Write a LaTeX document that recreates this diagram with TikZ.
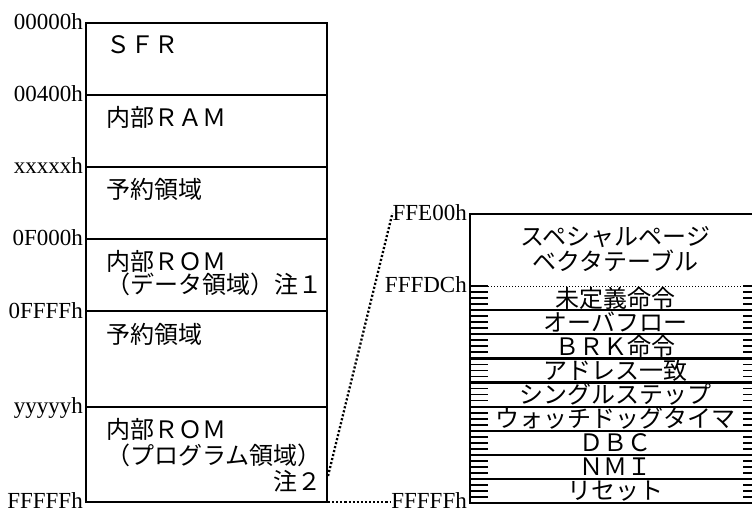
\documentclass[tikz,border=0pt]{standalone}
\usepackage{fontspec}
\setmainfont{Liberation Serif}
\newfontfamily\jpfont{Noto Sans CJK JP}
\begin{document}
\begin{tikzpicture}[x=1bp,y=-1bp,
  boxline/.style={line width=2.1bp},
  hatchline/.style={line width=1.9bp},
  addr/.style={font=\fontsize{23bp}{26bp}\selectfont, inner sep=0pt, anchor=base east},
  jptxt/.style={font=\jpfont\fontsize{24bp}{26bp}\selectfont, inner sep=0pt, anchor=base west},
  rowtxt/.style={font=\jpfont\fontsize{24bp}{26bp}\selectfont, inner sep=0pt, anchor=base},
  conn/.style={line width=2.3bp, dash pattern=on 2.1bp off 2bp},
  thindot/.style={line width=1.1bp, dash pattern=on 1.1bp off 1.9bp}]
\useasboundingbox (0,0) rectangle (752,512);

% ---------- left memory map ----------
\draw[boxline] (86,22.7) rectangle (327,502.3);
\foreach \yy in {94.7,166.7,238.7,311,406.7}
  \draw[boxline] (86,\yy) -- (327,\yy);

\node[addr] (a1) at (83,29.5) {00000h};
\node[addr] (a2) at (83,101.5) {00400h};
\node[addr] (a3) at (83,173.5) {xxxxxh};
\node[addr] (a4) at (83,245.5) {0F000h};
\node[addr] (a5) at (83,318) {0FFFFh};
\node[addr] (a6) at (83,413.5) {yyyyyh};
\node[addr] (a7) at (83,508.8) {FFFFFh};

\node[jptxt] (t1) at (106,54) {ＳＦＲ};
\node[jptxt] (t2) at (106,126.7) {内部ＲＡＭ};
\node[jptxt] (t3) at (106,198.7) {予約領域};
\node[jptxt] (t4) at (106,270.7) {内部ＲＯＭ};
\node[jptxt] (t5) at (106,293.5) {（データ領域）注１};
\node[jptxt] (t6) at (106,343) {予約領域};
\node[jptxt] (t7) at (106,438.5) {内部ＲＯＭ};
\node[jptxt] (t8) at (106,464) {（プログラム領域）};
\node[jptxt, anchor=base east] (t9) at (322,490) {注２};

% ---------- right vector table ----------
\draw[boxline] (761,214.3) -- (470,214.3) -- (470,502.7) -- (761,502.7);
\foreach \k in {1,...,8}
  \draw[boxline] (470,{286.3+24.05*\k}) -- (761,{286.3+24.05*\k});
\foreach \j in {0,...,36} {
  \draw[hatchline] (470,{286.3+6.0125*\j}) -- (488,{286.3+6.0125*\j});
  \draw[hatchline] (743,{286.3+6.0125*\j}) -- (761,{286.3+6.0125*\j});
}
\draw[thindot] (488,286.3) -- (743,286.3);

\node[addr] (r1) at (467,221) {FFE00h};
\node[addr] (r2) at (467,292.7) {FFFDCh};
\node[addr] (r3) at (467,508.8) {FFFFFh};

\node[rowtxt] (h1) at (615.5,246) {スペシャルページ};
\node[rowtxt] (h2) at (615.5,271) {ベクタテーブル};

\node[rowtxt] (v1) at (615.5,{286.3+21}) {未定義命令};
\node[rowtxt] (v2) at (615.5,{286.3+24.05*1+21}) {オーバフロー};
\node[rowtxt] (v3) at (615.5,{286.3+24.05*2+21}) {ＢＲＫ命令};
\node[rowtxt] (v4) at (615.5,{286.3+24.05*3+21}) {アドレス一致};
\node[rowtxt] (v5) at (615.5,{286.3+24.05*4+21}) {シングルステップ};
\node[rowtxt] (v6) at (615.5,{286.3+24.05*5+21}) {ウォッチドッグタイマ};
\node[rowtxt] (v7) at (615.5,{286.3+24.05*6+21}) {ＤＢＣ};
\node[rowtxt] (v8) at (615.5,{286.3+24.05*7+21}) {ＮＭＩ};
\node[rowtxt] (v9) at (615.5,{286.3+24.05*8+21}) {リセット};

% ---------- connectors ----------
\coordinate (romtop) at (328,476);
\coordinate (rombot) at (328,502.3);
\draw[conn] (romtop) -- (r1.west);
\draw[conn] (rombot) -- (r3.west |- rombot);
\end{tikzpicture}
\end{document}
